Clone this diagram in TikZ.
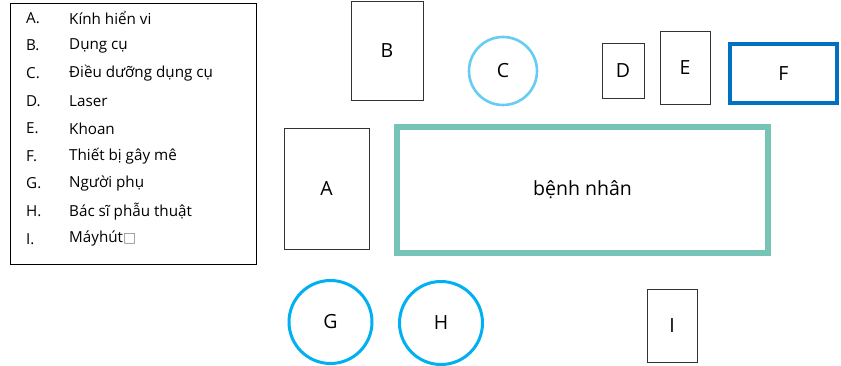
\documentclass[tikz,border=0pt]{standalone}
\usepackage{fontspec}
\setmainfont{Open Sans}
\newfontfamily\symfont{DejaVu Sans}
\definecolor{teal}{HTML}{76C4B5}
\definecolor{lblue}{HTML}{66CCF2}
\definecolor{cblue}{HTML}{00B0F0}
\definecolor{dblue}{HTML}{0070C0}
\tikzset{
  box/.style={draw=black!80, line width=0.9pt, fill=none},
  lab/.style={font=\fontsize{19.5}{22}\selectfont, text=black},
  leg/.style={font=\fontsize{15.2}{17}\selectfont, anchor=west, inner sep=0pt},
}
\begin{document}
\begin{tikzpicture}[x=1pt,y=-1pt]
\useasboundingbox (0,0) rectangle (841,366);
% legend
\draw[line width=0.9pt] (10,3) rectangle (256,264);
\foreach \l/\t [count=\i from 0] in {A./Kính hiển vi, B./Dụng cụ, C./Điều dưỡng dụng cụ, D./Laser, E./Khoan, F./Thiết bị gây mê, G./Người phụ, H./Bác sĩ phẫu thuật, I./Máyhút{\color{black!45}\symfont\fontsize{14}{15}\selectfont □}}{
  \node[leg] (l\i) at (26,{18+27.6*\i}) {\l};
  \node[leg] (t\i) at (69,{18+27.6*\i}) {\t};
}
% shapes
\node[box, minimum width=72pt, minimum height=99pt, lab] (B) at (387,50.5) {B};
\node[draw=lblue, line width=2.6pt, circle, minimum size=68pt, lab] (C) at (503,71) {C};
\node[box, minimum width=42pt, minimum height=55pt, lab] (D) at (623,71) {D};
\node[box, minimum width=50pt, minimum height=73pt, lab] (E) at (685,67.5) {E};
\node[draw=dblue, line width=3.2pt, minimum width=107pt, minimum height=59pt, lab] (F) at (783.5,73.5) {F};
\node[box, minimum width=85pt, minimum height=121pt, lab] (A) at (326.5,188.5) {A};
\node[draw=teal, line width=5.5pt, minimum width=371pt, minimum height=126pt, lab] (P) at (582.5,190) {bệnh nhân};
\node[draw=cblue, line width=3pt, circle, minimum size=83pt, lab] (G) at (330.5,322) {G};
\node[draw=cblue, line width=3pt, circle, minimum size=83pt, lab] (H) at (441,323) {H};
\node[box, minimum width=50pt, minimum height=73pt, lab] (I) at (672,325.5) {I};
\end{tikzpicture}
\end{document}
